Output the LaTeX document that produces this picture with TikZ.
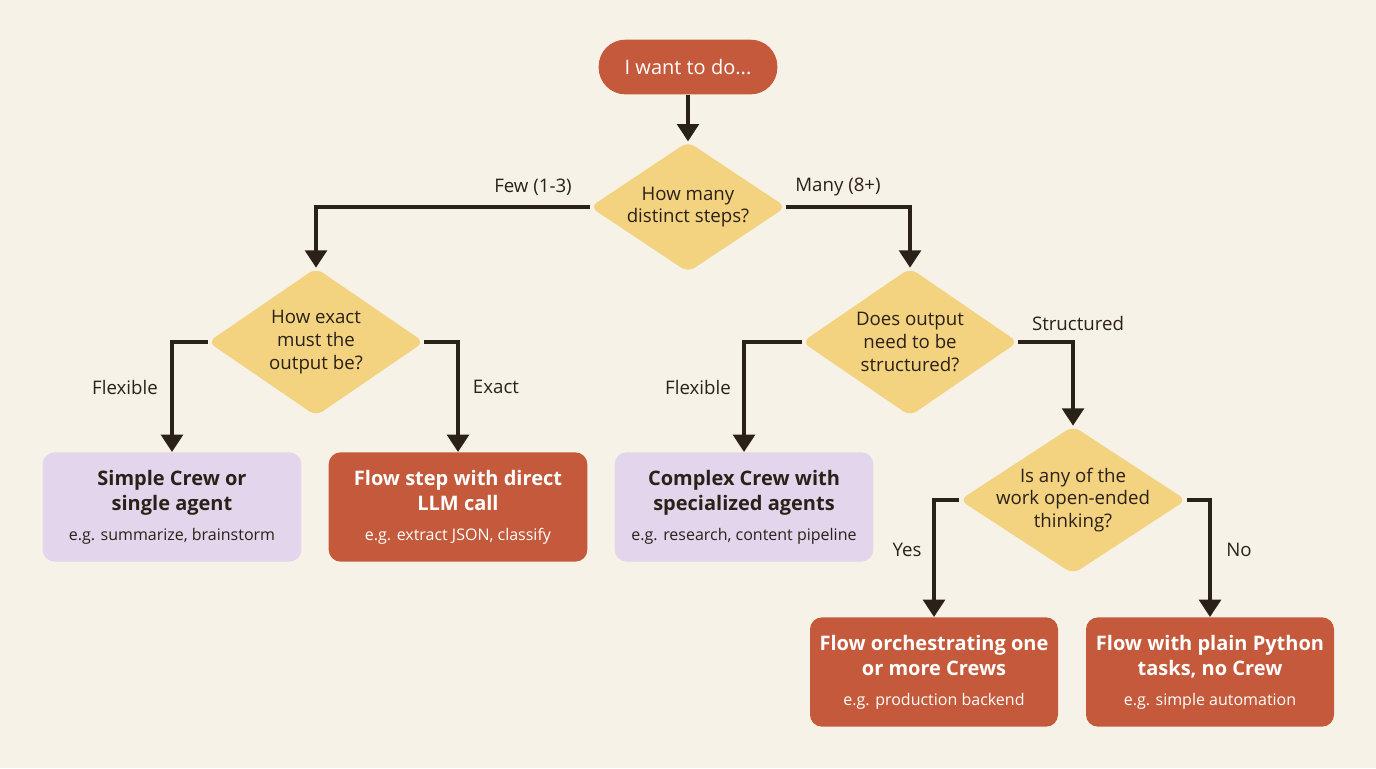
\documentclass[tikz,border=0pt]{standalone}
\usepackage{fontspec}
\setmainfont{Open Sans}
\usetikzlibrary{arrows.meta,positioning,shapes.geometric}
\definecolor{bgcol}{HTML}{F7F2E7}
\definecolor{redbox}{HTML}{C45A3B}
\definecolor{lilac}{HTML}{E2D5EC}
\definecolor{sand}{HTML}{F3D380}
\definecolor{ink}{HTML}{2A2118}
\newcommand{\egfont}{\mdseries\fontsize{12}{14}\selectfont}
\tikzset{
  x=0.75pt, y=-0.75pt,
  flow/.style={-{Triangle[width=16pt,length=13pt]}, line width=3.6pt, draw=ink},
  dia/.style={diamond, fill=sand, inner sep=0pt, rounded corners=6pt},
  qtxt/.style={align=center, font=\fontsize{14}{17}\selectfont, text=ink},
  box/.style={rectangle, rounded corners=9pt, minimum width=194pt, minimum height=82pt, align=center,
              font=\fontsize{15}{19}\selectfont\bfseries},
  hot/.style={box, fill=redbox, text=white},
  soft/.style={box, fill=lilac, text=ink},
  lbl/.style={font=\fontsize{14}{17}\selectfont, text=ink}
}
\begin{document}
\begin{tikzpicture}
    \fill[bgcol] (0,0) rectangle (1376,768);
    \useasboundingbox (0,0) rectangle (1376,768);

    % start
    \node[rectangle, rounded corners=20pt, fill=redbox, text=white, minimum width=134pt, minimum height=41pt,
          font=\fontsize{15}{18}\selectfont] (start) at (688,67) {I want to do...};

    % decisions
    \node[dia, minimum width=147pt, minimum height=98pt] (steps) at (688,207) {};
    \node[qtxt] at (steps) {How many\\distinct steps?};
    \node[dia, minimum width=162pt, minimum height=111pt] (exact) at (316,342) {};
    \node[qtxt] at (exact) {How exact\\must the\\output be?};
    \node[dia, minimum width=162pt, minimum height=111pt] (struct) at (910,342) {};
    \node[qtxt] at (struct) {Does output\\need to be\\structured?};
    \node[dia, minimum width=170pt, minimum height=111pt] (open) at (1073,500) {};
    \node[qtxt] at (open) {Is any of the\\work open-ended\\thinking?};

    % outcomes
    \node[soft] (simple) at (172,507) {Simple Crew or\\single agent\\[3pt]\egfont e.g. summarize, brainstorm};
    \node[hot] (direct) at (458,507) {Flow step with direct\\LLM call\\[3pt]\egfont e.g. extract JSON, classify};
    \node[soft] (complex) at (744,507) {Complex Crew with\\specialized agents\\[3pt]\egfont e.g. research, content pipeline};
    \node[hot, minimum width=186pt] (orch) at (934,672) {Flow orchestrating one\\or more Crews\\[3pt]\egfont e.g. production backend};
    \node[hot, minimum width=186pt] (plain) at (1210,672) {Flow with plain Python\\tasks, no Crew\\[3pt]\egfont e.g. simple automation};

    % connectors
    \draw[flow] (start) -- (steps.north);
    \draw[flow] (steps.west) -| (exact.north);
    \draw[flow] (steps.east) -| (struct.north);
    \draw[flow] (exact.west) -| (simple.north);
    \draw[flow] (exact.east) -| (direct.north);
    \draw[flow] (struct.west) -| (complex.north);
    \draw[flow] (struct.east) -| (open.north);
    \draw[flow] (open.west) -| (orch.north);
    \draw[flow] (open.east) -| (plain.north);

    % branch labels
    \node[lbl] (fewl) at (533,187) {Few (1-3)};
    \node[lbl] (manyl) at (838,187) {Many (8+)};
    \node[lbl] (flex1) at (125,387) {Flexible};
    \node[lbl] (exl) at (496,387) {Exact};
    \node[lbl] (flex2) at (698,387) {Flexible};
    \node[lbl] (strl) at (1078,323) {Structured};
    \node[lbl] (yesl) at (907,550) {Yes};
    \node[lbl] (nol) at (1239,550) {No};
\end{tikzpicture}
\end{document}
